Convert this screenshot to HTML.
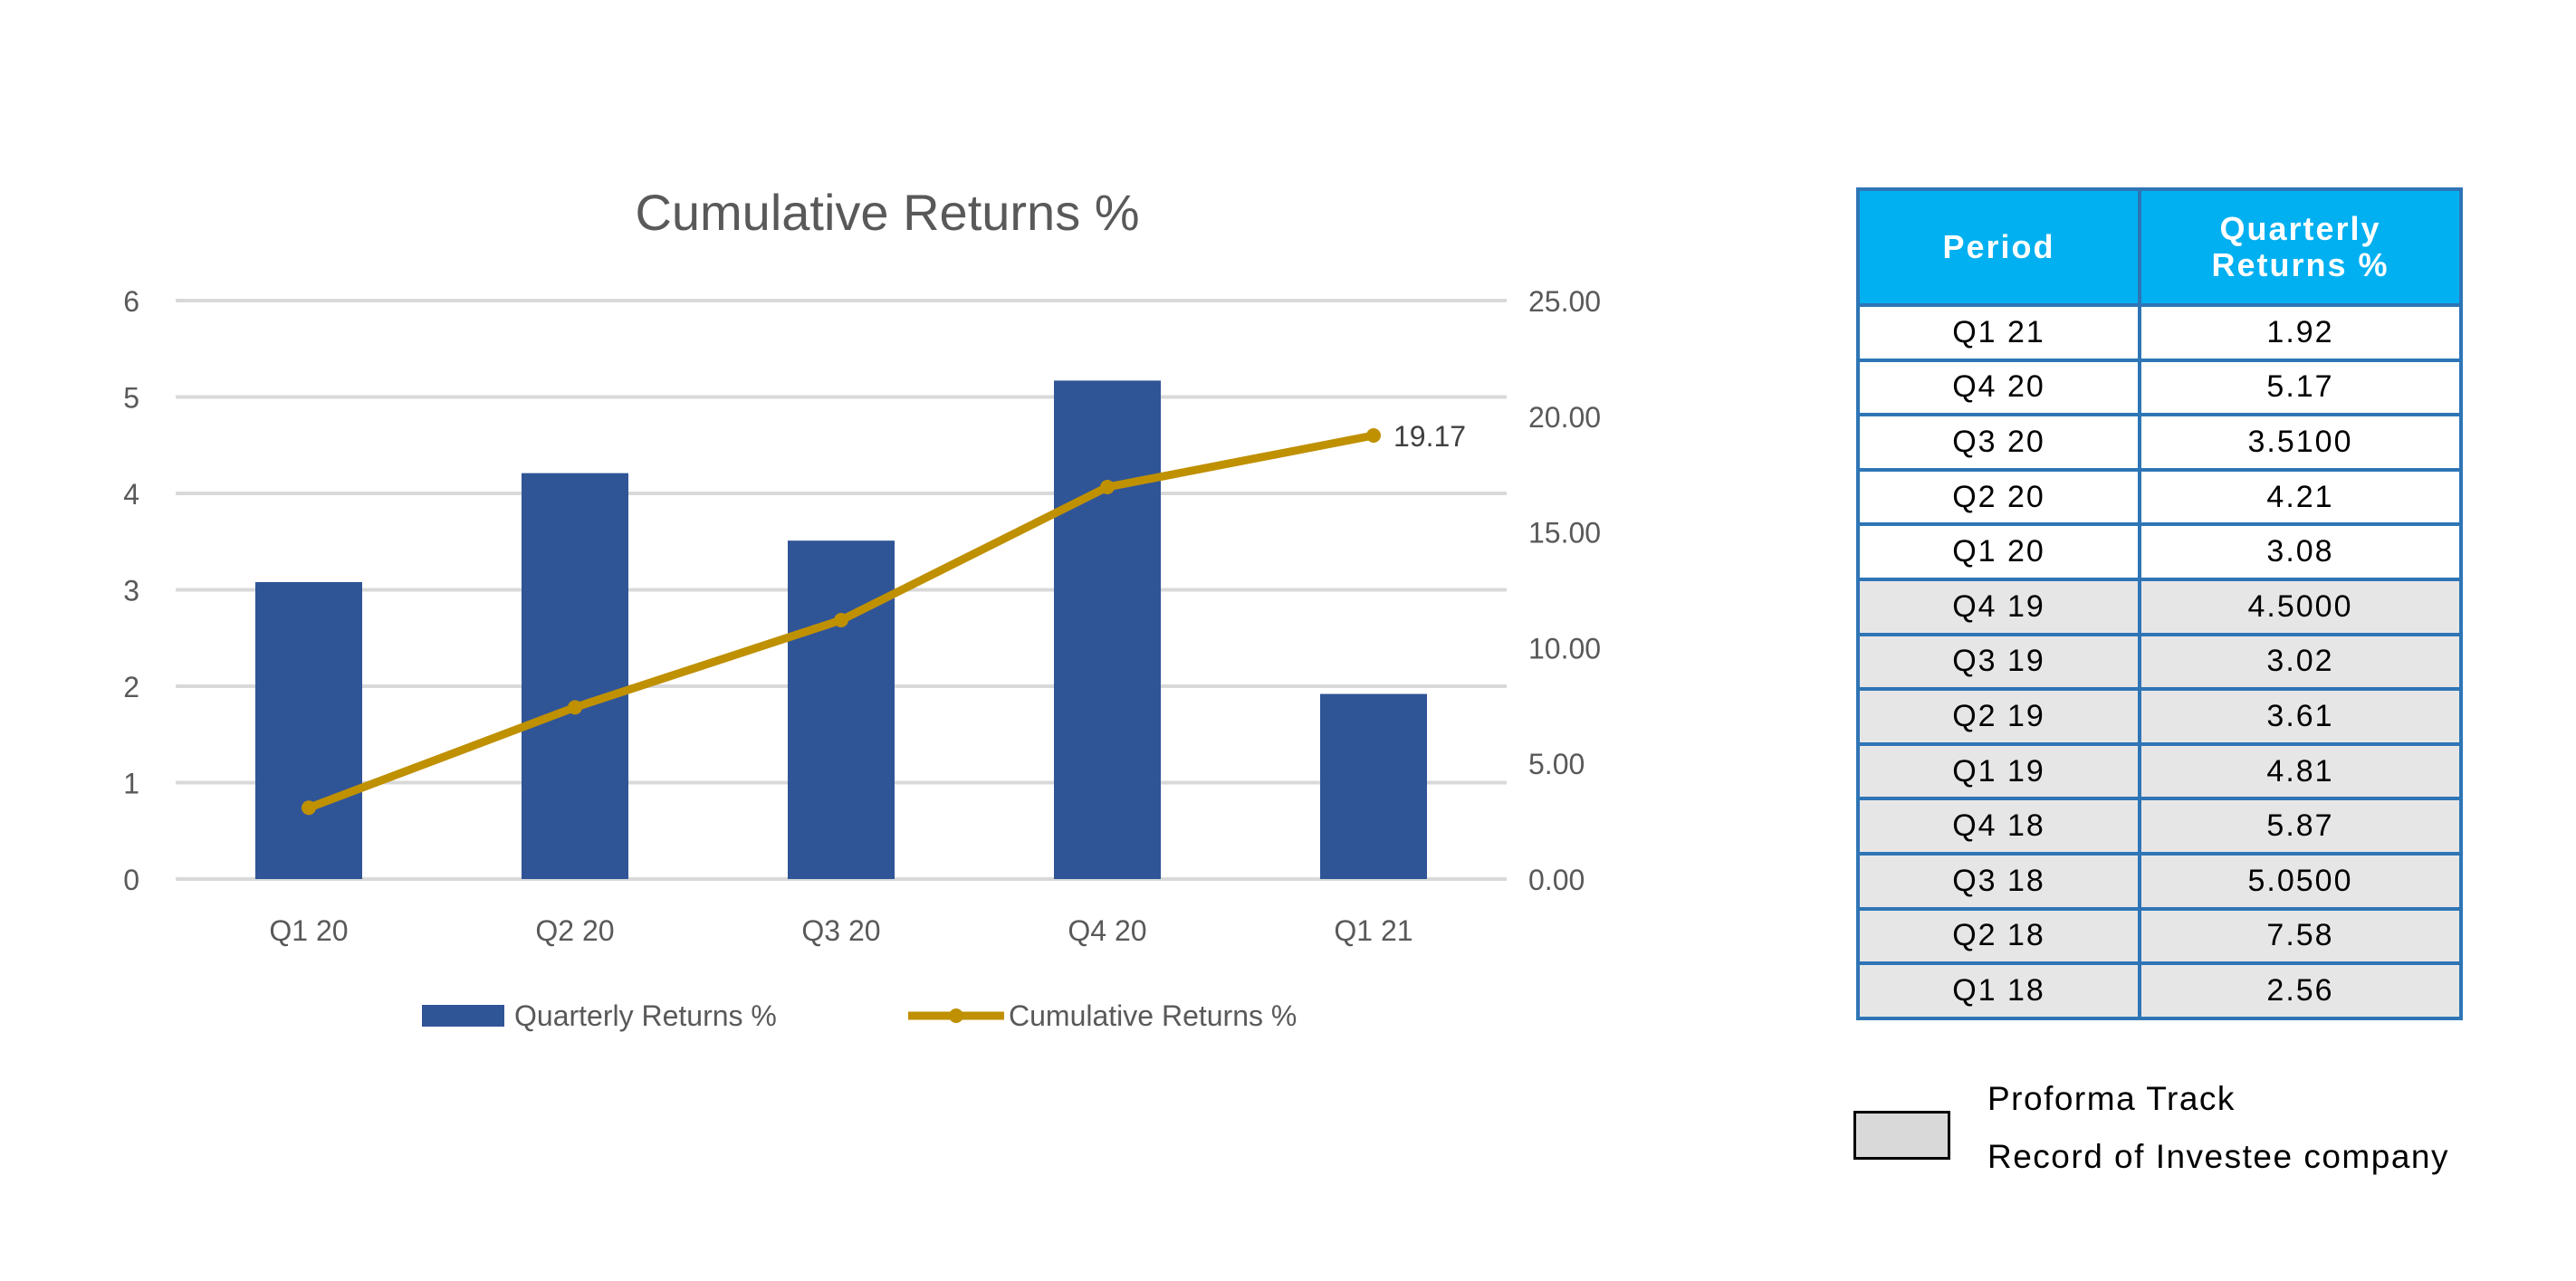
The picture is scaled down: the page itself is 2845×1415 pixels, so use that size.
<!DOCTYPE html>
<html><head><meta charset="utf-8"><style>
html,body{margin:0;padding:0;background:#fff;}
body{width:2845px;height:1415px;position:relative;overflow:hidden;font-family:"Liberation Sans",sans-serif;}
#tbl{position:absolute;left:2050px;top:207px;border-collapse:collapse;}
#tbl td,#tbl th{border:4px solid #2E75B6;text-align:center;font-size:34px;color:#000;padding:0;letter-spacing:2px;}
#tbl th{background:#00B0F0;color:#fff;font-weight:bold;font-size:36px;height:124px;line-height:40px;}
#tbl td{height:56.6px;}
#tbl tr.g td{background:#E7E6E6;}
</style></head><body>
<svg id="chart" width="1950" height="1200" style="position:absolute;left:0;top:0" font-family="Liberation Sans, sans-serif"></svg>
<table id="tbl">
<tr><th style="width:307px">Period</th><th style="width:351px">Quarterly<br>Returns %</th></tr>
<tr><td>Q1 21</td><td>1.92</td></tr>
<tr><td>Q4 20</td><td>5.17</td></tr>
<tr><td>Q3 20</td><td>3.5100</td></tr>
<tr><td>Q2 20</td><td>4.21</td></tr>
<tr><td>Q1 20</td><td>3.08</td></tr>
<tr class="g"><td>Q4 19</td><td>4.5000</td></tr>
<tr class="g"><td>Q3 19</td><td>3.02</td></tr>
<tr class="g"><td>Q2 19</td><td>3.61</td></tr>
<tr class="g"><td>Q1 19</td><td>4.81</td></tr>
<tr class="g"><td>Q4 18</td><td>5.87</td></tr>
<tr class="g"><td>Q3 18</td><td>5.0500</td></tr>
<tr class="g"><td>Q2 18</td><td>7.58</td></tr>
<tr class="g"><td>Q1 18</td><td>2.56</td></tr>
</table>
<div style="position:absolute;left:2047px;top:1227px;width:101px;height:48px;background:#D9D9D9;border:3px solid #000;"></div>
<div style="position:absolute;left:2195px;top:1182px;font-size:37px;line-height:64px;color:#000;letter-spacing:1.5px;">Proforma Track<br>Record of Investee company</div>
<script>
const categories=["Q1 20","Q2 20","Q3 20","Q4 20","Q1 21"];
const quarterly=[3.08,4.21,3.51,5.17,1.92];
const cumulative=[3.08,7.42,11.19,16.94,19.17];
const leftTicks=[0,1,2,3,4,5,6];
const rightTicks=["0.00","5.00","10.00","15.00","20.00","25.00"];
const NS="http://www.w3.org/2000/svg";
const svg=document.getElementById('chart');
const L=194,R=1664,T=332,B=971;
const yL=v=>B-(v/6)*(B-T);
const yR=v=>B-(v/25)*(B-T);
const bw=(R-L)/categories.length;
const xC=i=>L+(i+0.5)*bw;
function mk(tag,a,txt){const e=document.createElementNS(NS,tag);for(const k in a)e.setAttribute(k,a[k]);if(txt!==undefined)e.textContent=txt;svg.appendChild(e);return e;}
let t=mk('text',{x:980,y:254,'text-anchor':'middle','font-size':56,fill:'#595959'},'Cumulative Returns %');


leftTicks.forEach(v=>{
 const g=mk('line',{x1:L,x2:R,y1:yL(v),y2:yL(v),stroke:'#D9D9D9','stroke-width':4});
 
 
 const l=mk('text',{x:154,y:yL(v)+12,'text-anchor':'end','font-size':32,fill:'#595959'},String(v));
 
 
});
rightTicks.forEach(s=>{
 const l=mk('text',{x:1688,y:yR(parseFloat(s))+12,'font-size':32,fill:'#595959'},s);
 
 
});
quarterly.forEach((v,i)=>{
 const w=118;
 const b=mk('rect',{x:xC(i)-w/2,y:yL(v),width:w,height:B-yL(v),fill:'#2F5597'});
 
 
 const l=mk('text',{x:xC(i),y:1039,'text-anchor':'middle','font-size':32,fill:'#595959'},categories[i]);
 
 
});
const pl=mk('polyline',{points:cumulative.map((v,i)=>xC(i)+','+yR(v)).join(' '),fill:'none',stroke:'#BF9000','stroke-width':9,'stroke-linejoin':'round'});


cumulative.forEach((v,i)=>{
 const c=mk('circle',{cx:xC(i),cy:yR(v),r:8,fill:'#BF9000'});
 
 
});
const last=cumulative.length-1;
const dl=mk('text',{x:xC(last)+22,y:yR(cumulative[last])+12,'font-size':32,fill:'#404040'},cumulative[last].toFixed(2));


const s1=mk('rect',{x:466,y:1110,width:91,height:24,fill:'#2F5597'});


const t1=mk('text',{x:568,y:1133,'font-size':32,fill:'#595959'},'Quarterly Returns %');


const s2=mk('line',{x1:1003,x2:1109,y1:1122,y2:1122,stroke:'#BF9000','stroke-width':9});


const s3=mk('circle',{cx:1056,cy:1122,r:8,fill:'#BF9000'});


const t2=mk('text',{x:1114,y:1133,'font-size':32,fill:'#595959'},'Cumulative Returns %');


</script>
</body></html>
